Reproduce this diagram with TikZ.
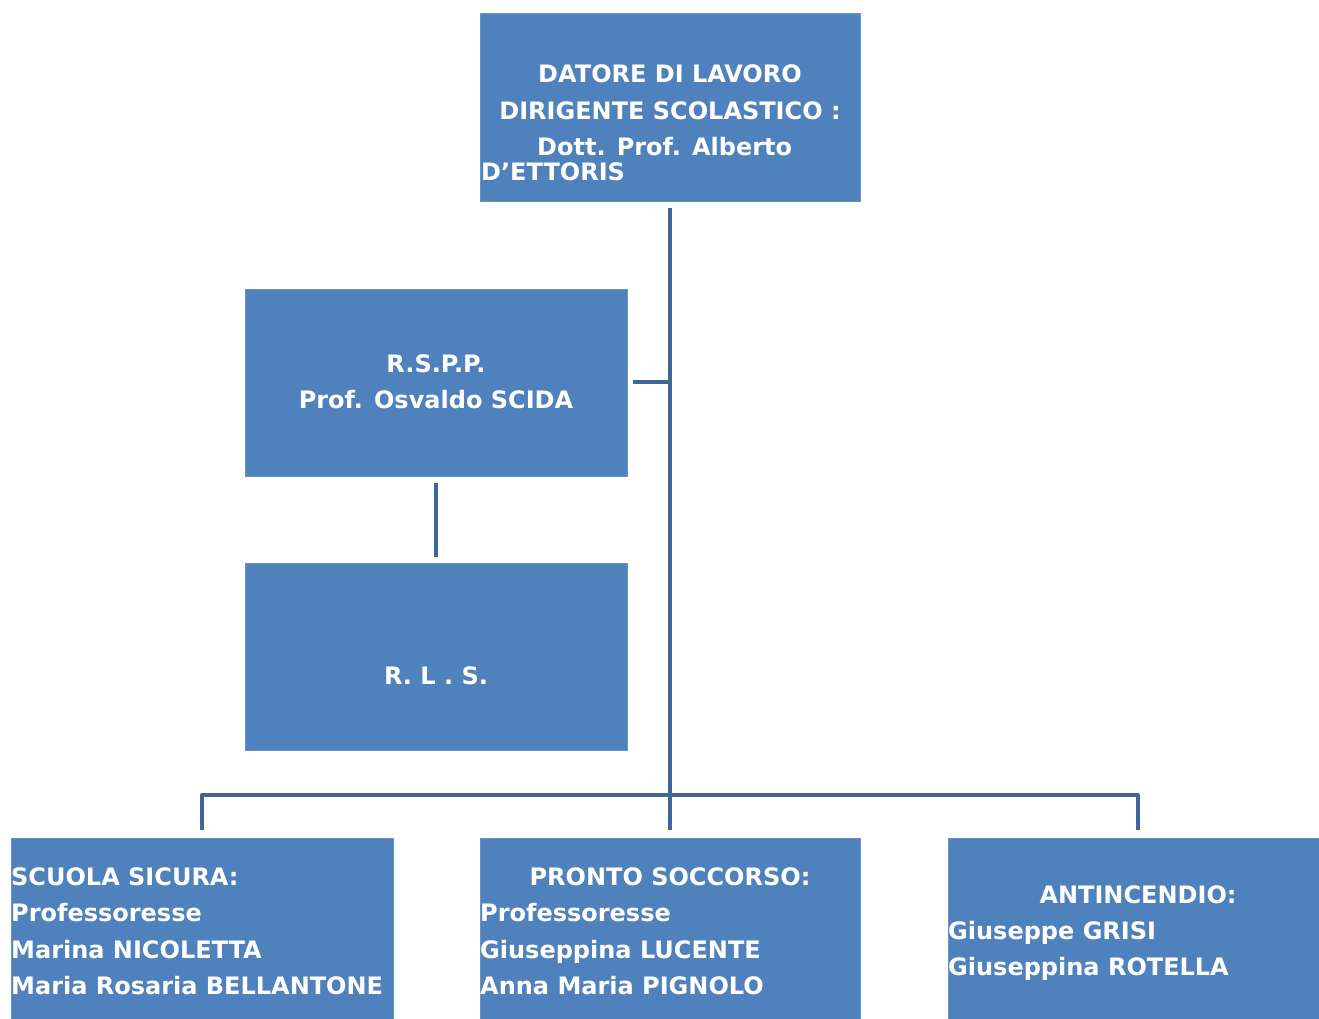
\documentclass[tikz,border=0pt]{standalone}
\usepackage{fontspec}
\setmainfont{DejaVu Sans}
\definecolor{boxfill}{HTML}{4F81BD}
\definecolor{boxedge}{HTML}{6A94C6}
\definecolor{linkcol}{HTML}{3F6698}
\begin{document}
\begin{tikzpicture}[x=1pt,y=-1pt,
  box/.style={draw=boxedge,line width=1pt,fill=boxfill,inner sep=0pt},
  txt/.style={text=white,font=\fontsize{24}{28}\selectfont\bfseries,inner sep=0pt,anchor=base},
  txtl/.style={txt,anchor=base west},
  link/.style={draw=linkcol,line width=4pt}]
\useasboundingbox[fill=white] (0,0) rectangle (1319,1019);
% boxes
\path[box] (480,14) rectangle (860,202);
\path[box] (245,289) rectangle (627,476);
\path[box] (245,563) rectangle (627,750);
\path[box] (11,838) rectangle (393,1025);
\path[box] (480,838) rectangle (860,1025);
\path[box] (948,838) rectangle (1325,1025);
% anchor coordinates
\coordinate (topb) at (670,208);
\coordinate (trunk) at (670,830);
\coordinate (rsppr) at (633,382);
\coordinate (rsppj) at (670,382);
\coordinate (rsppb) at (436,483);
\coordinate (rlst) at (436,557);
\coordinate (busl) at (202,795);
\coordinate (busr) at (1138,795);
\coordinate (lt) at (202,830);
\coordinate (rt) at (1138,830);
% connectors
\draw[link] (topb) -- (trunk);
\draw[link] (rsppr) -- (rsppj);
\draw[link] (rsppb) -- (rlst);
\draw[link,line join=round] (lt) -- (busl) -- (busr) -- (rt);
% texts
\node[txt] (t1) at (670,83) {DATORE DI LAVORO};
\node[txt] (t2) at (670,120) {DIRIGENTE SCOLASTICO :};
\node[txtl] (t3) at (537,156) {Dott. Prof. Alberto};
\node[txtl] (t4) at (481,181) {D’ETTORIS};
\node[txt] (r1) at (436,372) {R.S.P.P.};
\node[txt] (r2) at (436,408) {Prof. Osvaldo SCIDA};
\node[txt] (l1) at (436,684) {R. L . S.};
\node[txtl] (a1) at (11,885) {SCUOLA SICURA:};
\node[txtl] (a2) at (11,921) {Professoresse};
\node[txtl] (a3) at (11,958) {Marina NICOLETTA};
\node[txtl] (a4) at (11,994) {Maria Rosaria BELLANTONE};
\node[txt] (b1) at (670,885) {PRONTO SOCCORSO:};
\node[txtl] (b2) at (480,921) {Professoresse};
\node[txtl] (b3) at (480,958) {Giuseppina LUCENTE};
\node[txtl] (b4) at (480,994) {Anna Maria PIGNOLO};
\node[txt] (c1) at (1138,903) {ANTINCENDIO:};
\node[txtl] (c2) at (948,939) {Giuseppe GRISI};
\node[txtl] (c3) at (948,975) {Giuseppina ROTELLA};
\end{tikzpicture}
\end{document}
